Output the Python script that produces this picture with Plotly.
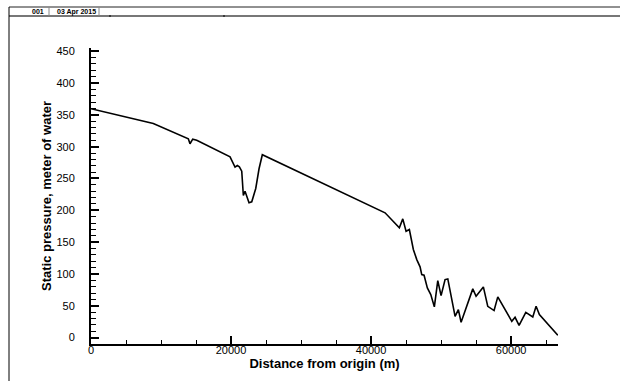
import plotly.graph_objects as go

# Static pressure profile along the pipeline
distance_m = [
    0, 8900, 13900, 14140, 14530, 15100, 19860, 20190, 20570, 20900, 21190,
    21530, 21760, 22000, 22240, 22570, 22960, 23530, 24000, 24470, 42000,
    44040, 44530, 45000, 45470, 46040, 46530, 47000, 47240, 47570, 48040,
    48530, 49040, 49530, 50000, 50570, 50960, 52000, 52470, 52860, 54530,
    55000, 56040, 56670, 57570, 58100, 60100, 60570, 61140, 62100, 63100,
    63570, 64040, 66670,
]
pressure_m = [
    359.6, 336.5, 312.4, 304.6, 311.8, 310.2, 284.1, 277.2, 267.8, 270.4, 268.4,
    261.5, 223.3, 230.0, 222.2, 211.8, 213.4, 234.3, 265.3, 287.3, 196.1,
    172.5, 186.6, 167.1, 169.8, 138.4, 122.6, 111.2, 99.1, 98.0, 78.1,
    67.6, 48.3, 89.6, 66.0, 91.2, 92.3, 33.5, 44.0, 24.1, 76.6,
    64.9, 79.7, 49.2, 42.5, 64.0, 25.6, 31.9, 19.3, 39.8, 32.5,
    49.2, 36.2, 3.6,
]

x_range = [0, 66700]
y_range = [-10, 455]
x_ticks = [0, 20000, 40000, 60000]
y_ticks = [0, 50, 100, 150, 200, 250, 300, 350, 400, 450]
header_id = "001"
header_date = "03 Apr 2015"

FONT = "Liberation Sans, Arial, sans-serif"

fig = go.Figure()
fig.add_trace(go.Scatter(
    x=distance_m, y=pressure_m, mode="lines",
    line=dict(color="black", width=1.6),
    showlegend=False, hoverinfo="skip",
))

# plot area geometry (px) used for the header frame placement
W, H = 620, 381
L, R, T, B = 91, 62, 48, 37
pw, ph = W - L - R, H - T - B


def px_x(p):
    return (p - L) / pw


def px_y(p):
    return (H - B - p) / ph


axis_common = dict(
    showgrid=False, zeroline=False, showline=True, linecolor="black",
    linewidth=2, ticks="inside", ticklen=8, tickwidth=1.5, tickcolor="black",
    tickfont=dict(family=FONT, size=11, color="black"),
)

fig.update_xaxes(
    range=x_range, tickvals=x_ticks, tickformat="d", ticklabelstandoff=-5,
    minor=dict(dtick=5000, tick0=0, ticks="inside", ticklen=4,
               tickwidth=1, tickcolor="black"),
    title=dict(text="<b>Distance from origin (m)</b>",
               font=dict(family=FONT, size=13, color="black"), standoff=0),
    **axis_common,
)
fig.update_yaxes(
    range=y_range, tickvals=y_ticks, ticklabelstandoff=12,
    minor=dict(dtick=10, tick0=0, ticks="inside", ticklen=5,
               tickwidth=1, tickcolor="black"),
    title=dict(text="<b>Static pressure, meter of water</b>",
               font=dict(family=FONT, size=13, color="black"), standoff=2),
    **axis_common,
)

shapes = []
line_dark = dict(color="black", width=1)
line_grey = dict(color="#888888", width=1)
# header strip and left frame edge
shapes.append(dict(type="line", xref="paper", yref="paper",
                   x0=px_x(9), x1=px_x(620), y0=px_y(7), y1=px_y(7),
                   line=dict(color="#222222", width=1)))
shapes.append(dict(type="line", xref="paper", yref="paper",
                   x0=px_x(9), x1=px_x(620), y0=px_y(16), y1=px_y(16),
                   line=dict(color="#777777", width=2)))
shapes.append(dict(type="line", xref="paper", yref="paper",
                   x0=px_x(9), x1=px_x(9), y0=px_y(7), y1=px_y(381), line=line_dark))
for sx in (49, 99):
    shapes.append(dict(type="line", xref="paper", yref="paper",
                       x0=px_x(sx), x1=px_x(sx), y0=px_y(7), y1=px_y(16), line=line_grey))
for sx in (110, 224):
    shapes.append(dict(type="line", xref="paper", yref="paper",
                       x0=px_x(sx), x1=px_x(sx), y0=px_y(15), y1=px_y(17), line=line_dark))

annotations = [
    dict(text="<b>" + header_id + "</b>", xref="paper", yref="paper",
         x=px_x(46), y=px_y(11.5), xanchor="right", yanchor="middle",
         showarrow=False, font=dict(family=FONT, size=7, color="black")),
    dict(text="<b>" + header_date + "</b>", xref="paper", yref="paper",
         x=px_x(55), y=px_y(11.5), xanchor="left", yanchor="middle",
         showarrow=False, font=dict(family=FONT, size=7, color="black")),
]

fig.update_layout(
    width=W, height=H,
    margin=dict(l=L, r=R, t=T, b=B, autoexpand=False),
    paper_bgcolor="white", plot_bgcolor="white",
    shapes=shapes, annotations=annotations,
)

fig.write_html("out.html", config={"displayModeBar": False})
